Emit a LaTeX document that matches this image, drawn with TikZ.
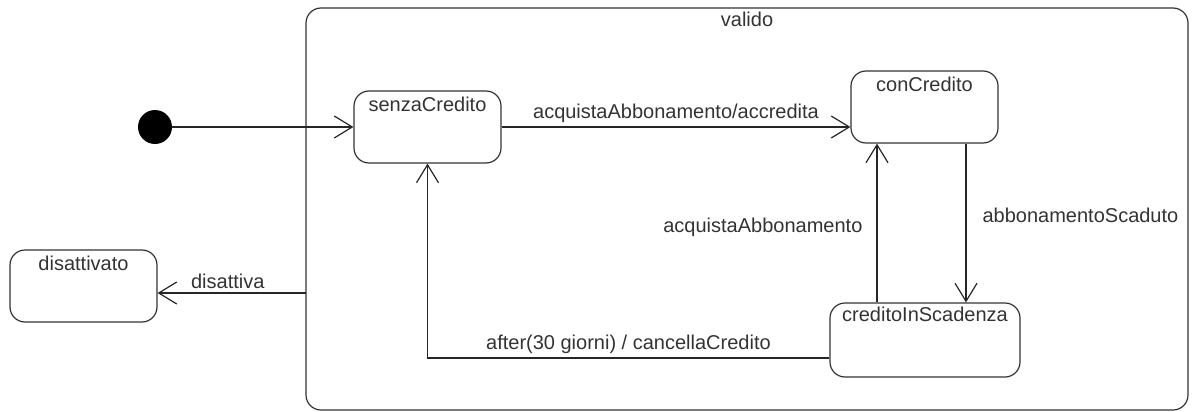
\documentclass[tikz,border=0pt]{standalone}
\usepackage{fontspec}
\setmainfont{Liberation Sans}
\usetikzlibrary{arrows.meta}

\tikzset{
  state/.style={draw=black!80, line width=0.6pt, rounded corners=7.5pt,
    minimum width=73.5pt, minimum height=36pt, inner sep=0pt},
  statename/.style={anchor=north, inner sep=3pt, text=black!80},
  trans/.style={draw=black!85, line width=0.6pt,
    -{Straight Barb[length=9pt,width=11pt,line width=0.6pt]}},
  lbl/.style={text=black!80, inner sep=2pt}
}

\begin{document}
\begin{tikzpicture}[x=0.5pt,y=-0.5pt,font=\fontsize{10}{12}\selectfont]
  \useasboundingbox (0,0) rectangle (1194,412);

  % Composite state
  \node[state, minimum width=441pt, minimum height=201pt,
    label={[statename, inner sep=2pt]north:valido}] (valido) at (747,209) {};

  % Initial pseudostate
  \node[circle, fill=black, minimum size=17pt, inner sep=0pt] (start) at (155,127) {};

  % States
  \node[state, label={[statename]north:senzaCredito}] (senza) at (427.5,127) {};
  \node[state, label={[statename]north:conCredito}] (con) at (924.5,107) {};
  \node[state, minimum width=95pt, minimum height=37pt,
    label={[statename, inner sep=2pt]north:creditoInScadenza}] (scad) at (925,340) {};
  \node[state, label={[statename]north:disattivato}] (dis) at (83.5,286) {};

  % Transitions
  \draw[trans] (start) -- (senza.west);
  \draw[trans] (senza.east) -- (senza.east -| con.west)
    node[lbl, midway, above] {acquistaAbbonamento/accredita};
  \draw[trans] ([xshift=20.75pt]con.south) -- ([xshift=20.75pt]con.south |- scad.north)
    node[lbl, midway, right, xshift=6pt, yshift=4pt] {abbonamentoScaduto};
  \draw[trans] ([xshift=-23.75pt]con.south |- scad.north) -- ([xshift=-23.75pt]con.south)
    node[lbl, midway, left, xshift=-5pt, yshift=-2pt] {acquistaAbbonamento};
  \draw[trans] ([yshift=-9pt]scad.west) -| (senza.south)
    node[lbl, pos=0.25, above] {after(30 giorni) / cancellaCredito};

  % Exit from valido
  \coordinate (exit) at (306,293);
  \draw[trans] (exit) -- (exit -| dis.east)
    node[lbl, midway, above, xshift=-2pt] {disattiva};
\end{tikzpicture}
\end{document}
